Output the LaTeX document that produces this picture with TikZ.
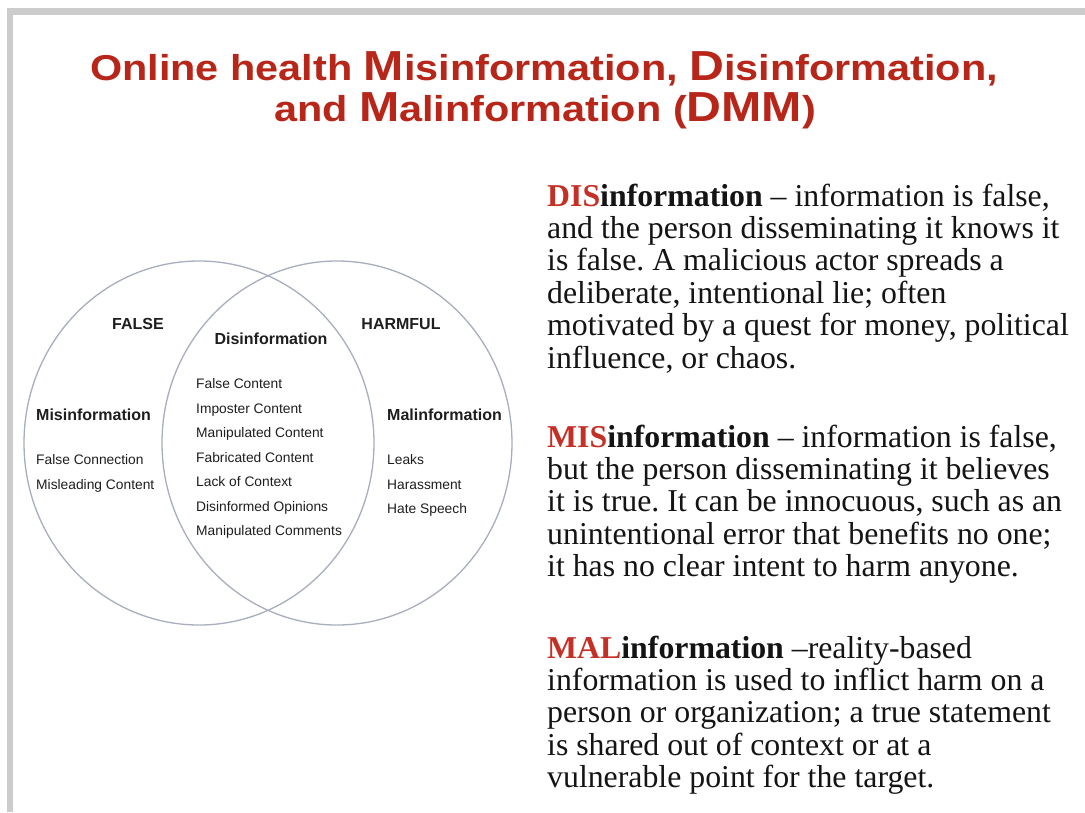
\documentclass[tikz,border=0pt]{standalone}
\usepackage{fontspec}
\usepackage{graphicx}
\usetikzlibrary{shapes.geometric}
\setmainfont{Liberation Serif}
\newfontfamily\venfont{Liberation Sans}
\newfontfamily\ttlfont{Liberation Sans}
\frenchspacing
\definecolor{titlered}{RGB}{184,38,26}
\definecolor{keyred}{RGB}{196,48,38}
\definecolor{framegray}{RGB}{204,204,204}
\definecolor{vennline}{RGB}{168,174,190}
\definecolor{venntext}{RGB}{30,30,30}
\definecolor{bodytext}{RGB}{20,20,20}
\newcommand\TitleBig[1]{{\fontsize{42}{42}\selectfont #1}}
\newcommand\KeyWord[2]{\textbf{\textcolor{keyred}{#1}#2}}
\tikzset{
  vcircle/.style={ellipse, draw=vennline, line width=1.3pt, inner sep=0pt,
    minimum width=350pt, minimum height=364pt},
  vhead/.style={inner sep=0pt, text=venntext, font=\venfont\bfseries\fontsize{16}{16}\selectfont},
  vlist/.style={inner sep=0pt, anchor=base west, text=venntext,
    font=\venfont\fontsize{13.8}{24.5}\selectfont},
  ttl/.style={inner sep=0pt, anchor=base, text=titlered,
    font=\ttlfont\bfseries\fontsize{36}{36}\selectfont},
  para/.style={inner sep=0pt, anchor=base west, text=bodytext,
    font=\frenchspacing\fontsize{31.8}{32.4}\selectfont}
}
\begin{document}
\begin{tikzpicture}[x=1pt,y=-1pt]
\useasboundingbox (0,0) rectangle (1085,812);
\fill[white] (0,0) rectangle (1085,812);
% frame
\fill[framegray] (7,8) rectangle (1085,15);
\fill[framegray] (7,8) rectangle (13,812);

% title
\node[ttl] (title1) at (544,80) {\scalebox{1.15}[1]{Online health \TitleBig{M}isinformation, \TitleBig{D}isinformation,}};
\node[ttl] (title2) at (545,121) {\scalebox{1.15}[1]{and \TitleBig{M}alinformation (\TitleBig{DMM})}};

% venn
\node[vcircle] (falsecirc) at (199,443) {};
\node[vcircle] (harmcirc) at (337,443) {};

\node[vhead, anchor=base] (false) at (138,329) {FALSE};
\node[vhead, anchor=base] (harmful) at (401,329) {HARMFUL};
\node[vhead, anchor=base] (dis) at (271,344) {Disinformation};
\node[vhead, anchor=base west] (mis) at (36,420) {Misinformation};
\node[vhead, anchor=base west] (mal) at (387,420) {Malinformation};

\node[vlist] (mislist) at (36,464.5) {\begin{tabular}[t]{@{}l@{}}False Connection\\ Misleading Content\end{tabular}};
\node[vlist] (dislist) at (196,388.5) {\begin{tabular}[t]{@{}l@{}}False Content\\ Imposter Content\\ Manipulated Content\\ Fabricated Content\\ Lack of Context\\ Disinformed Opinions\\ Manipulated Comments\end{tabular}};
\node[vlist] (mallist) at (387,464.5) {\begin{tabular}[t]{@{}l@{}}Leaks\\ Harassment\\ Hate Speech\end{tabular}};

% definitions
\node[para] (disdef) at (547,206) {\begin{tabular}[t]{@{}l@{}}
\KeyWord{DIS}{information} \textendash{} information is false,\\
and the person disseminating it knows it\\
is false. A malicious actor spreads a\\
deliberate, intentional lie; often\\
motivated by a quest for money, political\\
influence, or chaos.\end{tabular}};
\node[para] (misdef) at (547,447) {\begin{tabular}[t]{@{}l@{}}
\KeyWord{MIS}{information} \textendash{} information is false,\\
but the person disseminating it believes\\
it is true. It can be innocuous, such as an\\
unintentional error that benefits no one;\\
it has no clear intent to harm anyone.\end{tabular}};
\node[para] (maldef) at (547,658) {\begin{tabular}[t]{@{}l@{}}
\KeyWord{MAL}{information} \textendash reality-based\\
information is used to inflict harm on a\\
person or organization; a true statement\\
is shared out of context or at a\\
vulnerable point for the target.\end{tabular}};
\end{tikzpicture}
\end{document}
